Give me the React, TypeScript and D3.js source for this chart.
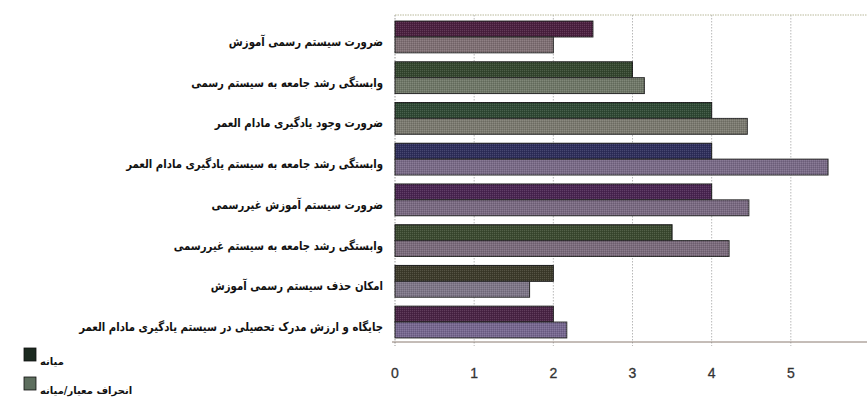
import React from 'react';
import * as d3 from 'd3';

const categories = [
  'ضرورت سیستم رسمی آموزش',
  'وابستگی رشد جامعه به سیستم رسمی',
  'ضرورت وجود یادگیری مادام العمر',
  'وابستگی رشد جامعه به سیستم یادگیری مادام العمر',
  'ضرورت سیستم آموزش غیررسمی',
  'وابستگی رشد جامعه به سیستم غیررسمی',
  'امکان حذف سیستم رسمی آموزش',
  'جایگاه و ارزش مدرک تحصیلی در سیستم یادگیری مادام العمر',
];
const median = [2.5, 3, 4, 4, 4, 3.5, 2, 2];
const devRatio = [2, 3.15, 4.45, 5.47, 4.47, 4.22, 1.7, 2.17];
const seriesNames = ['میانه', 'انحراف معیار/میانه'];
const xTicks = [0, 1, 2, 3, 4, 5];

const darkColors = ['#4b2040', '#34472f', '#2f4934', '#2f2f5c', '#4a2552', '#3b4a30', '#3d3b2b', '#4a2446'];
const lightColors = ['#7f7074', '#707868', '#7b7a70', '#7a6b88', '#7a6a82', '#7b6b7c', '#7e7688', '#766790'];

const W = 867;
const H = 417;
const margin = { top: 15, right: -3, bottom: 75, left: 395 };

const App: React.FC = () => {
  const x = d3.scaleLinear().domain([0, 6]).range([margin.left, W - margin.right]);
  const y = d3.scaleBand<number>()
    .domain(d3.range(categories.length))
    .range([margin.top + 2, H - margin.bottom])
    .paddingInner(0.22)
    .paddingOuter(0.1);
  const barH = y.bandwidth() / 2;
  const font = '"DejaVu Sans", sans-serif';

  return (
    <svg width={W} height={H} style={{ position: 'absolute', left: 0, top: 0, background: '#fff' }}>
      <defs>
        <pattern id="dither" width="2" height="2" patternUnits="userSpaceOnUse">
          <rect width="1" height="1" fill="#fff" opacity="0.12" />
          <rect x="1" y="1" width="1" height="1" fill="#000" opacity="0.12" />
        </pattern>
      </defs>
      {/* gridlines */}
      {xTicks.map(t => (
        <line key={t} x1={x(t)} x2={x(t)} y1={margin.top} y2={H - margin.bottom + 4}
          stroke={t === 0 ? '#999' : '#b8b8b8'} strokeDasharray="1.5,1.5" />
      ))}
      <line x1={margin.left} x2={W} y1={margin.top} y2={margin.top} stroke="#b9b99a" strokeDasharray="1.5,1" />
      {/* bars */}
      {categories.map((c, i) => {
        const y0 = y(i)!;
        return (
          <g key={c}>
            <rect x={x(0)} y={y0} width={x(median[i]) - x(0)} height={barH}
              fill={darkColors[i]} stroke="#1d1d1d" strokeWidth={1} />
            <rect x={x(0)} y={y0} width={x(median[i]) - x(0)} height={barH} fill="url(#dither)" />
            <rect x={x(0)} y={y0 + barH} width={x(devRatio[i]) - x(0)} height={barH}
              fill={lightColors[i]} stroke="#2a2a2a" strokeWidth={1} />
            <rect x={x(0)} y={y0 + barH} width={x(devRatio[i]) - x(0)} height={barH} fill="url(#dither)" />
            <text transform={`translate(383, ${y0 + barH + 9}) scale(0.845, 1)`} textAnchor="end"
              fontFamily={font} fontWeight="bold" fontSize={12} fill="#111">{c}</text>
          </g>
        );
      })}
      {/* x axis */}
      <line x1={margin.left - 3} x2={W} y1={H - margin.bottom} y2={H - margin.bottom} stroke="#8a7a70" strokeWidth={1} />
      {xTicks.map(t => (
        <text key={t} x={x(t)} y={378} textAnchor="middle" fontFamily='"Liberation Sans", Arial, sans-serif'
          fontSize={14} fill="#333" stroke="#333" strokeWidth={0.3}>{t}</text>
      ))}
      {/* legend */}
      {seriesNames.map((s, i) => (
        <g key={s} transform={`translate(24, ${348 + i * 29})`}>
          <rect width={12} height={13} fill={i === 0 ? '#1c2a20' : '#5d6e5e'} stroke="#111" strokeWidth={0.8} />
          <text x={16} y={17} fontFamily={font} fontWeight="bold" fontSize={10} fill="#111"
            textAnchor="start">{s}</text>
        </g>
      ))}
    </svg>
  );
};

export default App;
